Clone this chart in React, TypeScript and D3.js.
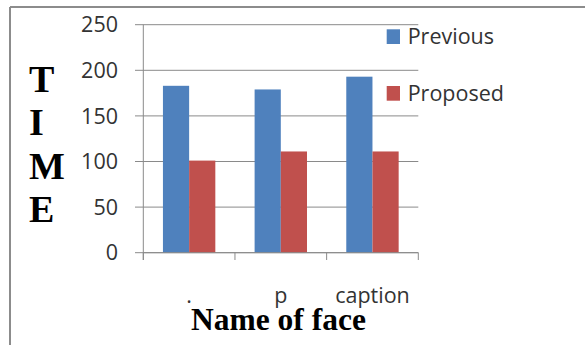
import React from "react";
import * as d3 from "d3";

const categories = [".", "p", "caption"];
const seriesNames = ["Previous", "Proposed"];
const previousValues = [183, 179, 193];
const proposedValues = [101, 111, 111];
const yTicks = [0, 50, 100, 150, 200, 250];
const colors = ["#4F81BD", "#C0504D"];
const yTitleLetters = ["T", "I", "M", "E"];

export default function App() {
  const W = 585;
  const H = 345;
  const x0 = 143.3;
  const x1 = 418.3;
  const yTop = 24.7;
  const yBottom = 252.7;

  const y = d3.scaleLinear().domain([0, 250]).range([yBottom, yTop]);
  const x = d3
    .scaleBand<string>()
    .domain(categories)
    .range([x0, x1])
    .paddingInner(3 / 7)
    .paddingOuter(1.5 / 7);
  const xs = d3.scaleBand<string>().domain(seriesNames).range([0, x.bandwidth()]);
  const step = x.step();
  const values = [previousValues, proposedValues];
  const sans = "'Open Sans', sans-serif";
  const serif = "'Liberation Serif', 'Times New Roman', serif";
  const fs = 21.5;

  return (
    <svg
      width={W}
      height={H}
      style={{ position: "absolute", left: 0, top: 0, display: "block", background: "#fff" }}
    >
      <rect x={0} y={0} width={W} height={H} fill="#fff" />
      {/* frame */}
      <line x1={10} y1={7} x2={W} y2={7} stroke="#8c8c8c" strokeWidth={2} />
      <line x1={10} y1={7} x2={10} y2={H} stroke="#8c8c8c" strokeWidth={2} />

      {/* gridlines + y ticks */}
      {yTicks.map((t) => (
        <g key={t}>
          <line x1={135} x2={x1} y1={y(t)} y2={y(t)} stroke="#8a8a8a" strokeWidth={1} />
          <text
            x={118}
            y={y(t) + 0.357 * fs}
            textAnchor="end"
            fontFamily={sans}
            fontSize={fs}
            fill="#333"
          >
            {t}
          </text>
        </g>
      ))}

      {/* bars */}
      {categories.map((c, i) => (
        <g key={c}>
          {seriesNames.map((s, j) => (
            <rect
              key={s}
              x={(x(c) as number) + (xs(s) as number)}
              y={y(values[j][i])}
              width={xs.bandwidth()}
              height={yBottom - y(values[j][i])}
              fill={colors[j]}
            />
          ))}
        </g>
      ))}

      {/* axes */}
      <line x1={x0} x2={x0} y1={yTop} y2={260} stroke="#8a8a8a" strokeWidth={1} />
      <line x1={x0} x2={x1} y1={yBottom} y2={yBottom} stroke="#8a8a8a" strokeWidth={1} />
      {d3.range(categories.length + 1).map((k) => (
        <line
          key={k}
          x1={x0 + k * step}
          x2={x0 + k * step}
          y1={yBottom}
          y2={260}
          stroke="#8a8a8a"
          strokeWidth={1}
        />
      ))}

      {/* category labels */}
      {categories.map((c) => (
        <text
          key={c}
          x={(x(c) as number) + x.bandwidth() / 2}
          y={303}
          textAnchor="middle"
          fontFamily={sans}
          fontSize={fs}
          fill="#333"
        >
          {c}
        </text>
      ))}

      {/* y title */}
      {yTitleLetters.map((l, i) => (
        <text
          key={l}
          x={29}
          y={92 + i * 43.3}
          fontFamily={serif}
          fontWeight="bold"
          fontSize={38}
          fill="#000"
        >
          {l}
        </text>
      ))}

      {/* x title */}
      <text x={191} y={330} fontFamily={serif} fontWeight="bold" fontSize={31.5} fill="#000">
        Name of face
      </text>

      {/* legend */}
      {seriesNames.map((s, j) => (
        <g key={s}>
          <rect x={386.7} y={29.3 + j * 56.7} width={13.3} height={14.7} fill={colors[j]} />
          <text
            x={407.7}
            y={44.3 + j * 56.4}
            fontFamily={sans}
            fontSize={fs}
            fill="#333"
          >
            {s}
          </text>
        </g>
      ))}
    </svg>
  );
}
